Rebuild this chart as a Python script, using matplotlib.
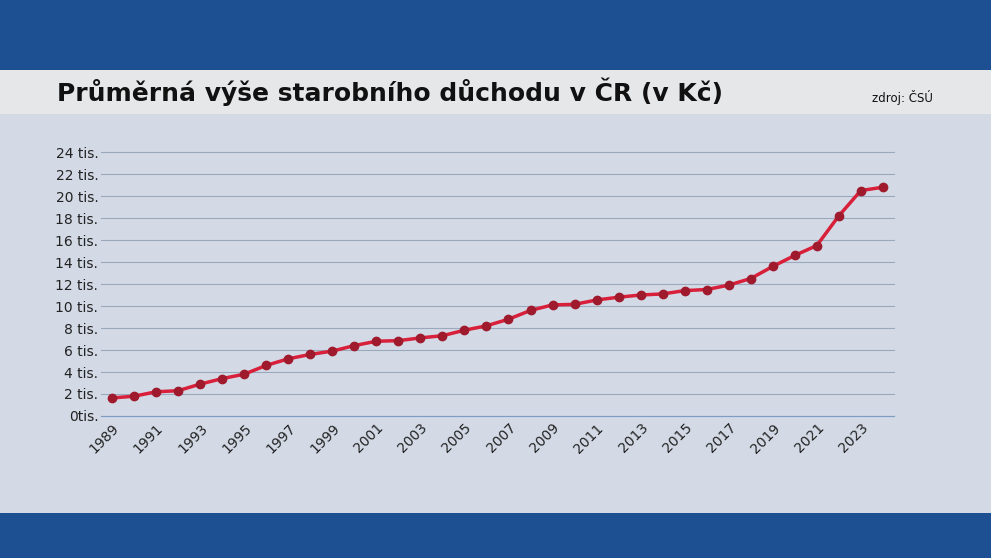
import matplotlib.pyplot as plt
import matplotlib.patches as mpatches

years = list(range(1989, 2025))
values = [1640, 1800, 2200, 2300, 2900, 3400, 3800, 4600, 5200, 5600, 5900, 6400,
          6800, 6850, 7100, 7300, 7800, 8200, 8800, 9600, 10100, 10150, 10550, 10800,
          11000, 11100, 11400, 11500, 11900, 12500, 13600, 14600, 15500, 18200,
          20500, 20800]
yticks = list(range(0, 25000, 2000))
ytick_labels = ["0tis."] + [f"{v // 1000} tis." for v in yticks[1:]]

fig = plt.figure(figsize=(9.91, 5.58), dpi=100)
fig.patch.set_facecolor("#1d4f93")
# panels
fig.patches.append(mpatches.Rectangle((0, 0.08), 1, 0.795, transform=fig.transFigure,
                                      facecolor="#d3dae6", zorder=-2))
fig.patches.append(mpatches.Rectangle((0, 0.795), 1, 0.08, transform=fig.transFigure,
                                      facecolor="#e6e7e9", zorder=-1))
fig.text(0.058, 0.835, "Průměrná výše starobního důchodu v ČR (v Kč)", fontsize=18,
         fontweight="bold", color="#111111", va="center")
fig.text(0.88, 0.825, "zdroj: ČSÚ", fontsize=8.5, color="#111111", va="center")

ax = fig.add_axes([0.102, 0.2545, 0.8, 0.473])
ax.set_facecolor("none")
ax.plot(years, values, color="#d8203a", lw=2.5, marker="o", ms=6,
        markerfacecolor="#9e1a2c", markeredgecolor="#9e1a2c", clip_on=False)
ax.set_xlim(1988.5, 2024.5)
ax.set_ylim(0, 24000)
ax.set_yticks(yticks)
ax.set_yticklabels(ytick_labels)
ax.set_xticks(years[::2])
ax.set_xticklabels([str(y) for y in years[::2]], rotation=45, ha="right",
                   rotation_mode="anchor")
ax.grid(axis="y", color="#9aa7bd", lw=0.8, clip_on=False)
ax.set_axisbelow(True)
for s in ["top", "right", "left"]:
    ax.spines[s].set_visible(False)
ax.spines["bottom"].set_color("#7f9cc4")
ax.tick_params(axis="both", length=0, labelsize=10, colors="#222222")
ax.tick_params(axis="y", pad=2)
fig.savefig("out.png", dpi=100, facecolor=fig.get_facecolor())
